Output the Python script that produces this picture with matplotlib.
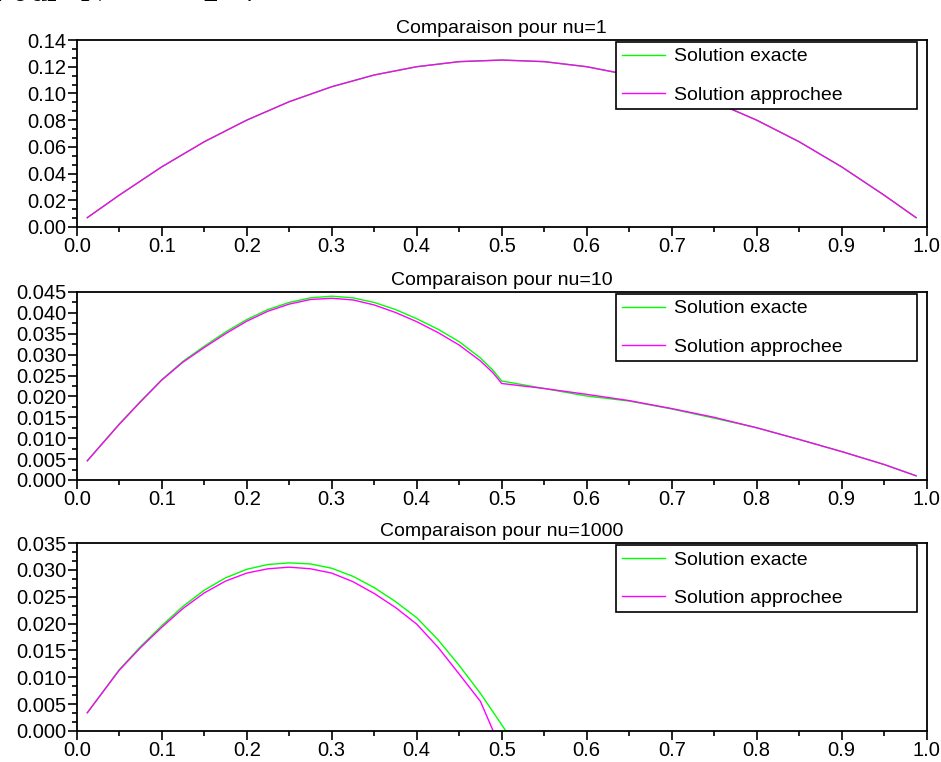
import numpy as np
import matplotlib.pyplot as plt
from matplotlib.ticker import MultipleLocator, FormatStrFormatter

plt.rcParams['font.family'] = ['Liberation Sans', 'DejaVu Sans']
plt.rcParams['mathtext.fontset'] = 'cm'

# nu = 1 (both solutions overlap)
x_nu1 = [0.0125, 0.05, 0.1, 0.15, 0.2, 0.25, 0.3, 0.35, 0.4, 0.45, 0.5,
         0.55, 0.6, 0.65, 0.7, 0.75, 0.8, 0.85, 0.9, 0.95, 0.9875]
exact_nu1 = [0.0070, 0.0238, 0.0450, 0.0638, 0.0800, 0.0938, 0.1050, 0.1138, 0.1200, 0.1238, 0.1250,
             0.1238, 0.1200, 0.1138, 0.1050, 0.0938, 0.0800, 0.0638, 0.0450, 0.0238, 0.0070]
approx_nu1 = [0.0070, 0.0238, 0.0450, 0.0638, 0.0800, 0.0938, 0.1050, 0.1138, 0.1200, 0.1238, 0.1250,
              0.1238, 0.1200, 0.1138, 0.1050, 0.0938, 0.0800, 0.0638, 0.0450, 0.0238, 0.0070]

# nu = 10
x_nu10 = [0.0125, 0.05, 0.075, 0.1, 0.125, 0.15, 0.175, 0.2, 0.225, 0.25, 0.275, 0.3,
          0.325, 0.35, 0.375, 0.4, 0.425, 0.45, 0.475, 0.49, 0.5,
          0.55, 0.6, 0.65, 0.7, 0.75, 0.8, 0.85, 0.9, 0.95, 0.9875]
exact_nu10 = [0.0046, 0.0134, 0.0188, 0.0240, 0.0284, 0.0320, 0.0354, 0.0384, 0.0408, 0.0425, 0.0436, 0.0440,
              0.0436, 0.0425, 0.0408, 0.0386, 0.0361, 0.0331, 0.0292, 0.0262, 0.0237,
              0.0219, 0.0201, 0.0189, 0.0170, 0.0148, 0.0125, 0.0097, 0.0068, 0.0037, 0.0010]
approx_nu10 = [0.0046, 0.0133, 0.0187, 0.0239, 0.0282, 0.0317, 0.0350, 0.0380, 0.0404, 0.0421, 0.0432, 0.0435,
               0.0431, 0.0419, 0.0401, 0.0379, 0.0353, 0.0323, 0.0285, 0.0256, 0.0231,
               0.0219, 0.0205, 0.0190, 0.0171, 0.0150, 0.0125, 0.0097, 0.0068, 0.0037, 0.0010]

# nu = 1000
x_nu1000_ex = [0.0125, 0.05, 0.075, 0.1, 0.125, 0.15, 0.175, 0.2, 0.225, 0.25, 0.275, 0.3,
               0.325, 0.35, 0.375, 0.4, 0.425, 0.45, 0.475, 0.505]
exact_nu1000 = [0.0034, 0.0114, 0.0157, 0.0196, 0.0232, 0.0262, 0.0285, 0.0301, 0.0310, 0.0313, 0.0311, 0.0303,
                0.0288, 0.0267, 0.0241, 0.0211, 0.0170, 0.0122, 0.0070, 0.0]
x_nu1000_ap = [0.0125, 0.05, 0.075, 0.1, 0.125, 0.15, 0.175, 0.2, 0.225, 0.25, 0.275, 0.3,
               0.325, 0.35, 0.375, 0.4, 0.425, 0.45, 0.475, 0.49]
approx_nu1000 = [0.0034, 0.0113, 0.0155, 0.0193, 0.0228, 0.0257, 0.0279, 0.0294, 0.0302, 0.0305, 0.0302, 0.0294,
                 0.0278, 0.0256, 0.0230, 0.0199, 0.0156, 0.0106, 0.0055, 0.0]

panels = [
    ("Comparaison pour nu=1", x_nu1, exact_nu1, x_nu1, approx_nu1, 0.14, 0.02, 3, "%.2f"),
    ("Comparaison pour nu=10", x_nu10, exact_nu10, x_nu10, approx_nu10, 0.045, 0.005, 2, "%.3f"),
    ("Comparaison pour nu=1000", x_nu1000_ex, exact_nu1000, x_nu1000_ap, approx_nu1000, 0.035, 0.005, 3, "%.3f"),
]

fig = plt.figure(figsize=(9.41, 7.62), dpi=100)
fig.patch.set_facecolor('white')

# axes boxes in figure fractions (left, bottom, width, height)
boxes = [
    (0.0815, 0.7021, 0.9033, 0.2454),
    (0.0815, 0.3701, 0.9033, 0.2467),
    (0.0815, 0.0407, 0.9033, 0.2467),
]

for (title, xe, ye, xa, ya, ymax, ystep, nminor, fmt), box in zip(panels, boxes):
    ax = fig.add_axes(box)
    ax.plot(xe, ye, color='#00ff00', lw=1.0, label='Solution exacte')
    ax.plot(xa, ya, color='#ff00ff', lw=1.0, label='Solution approchee')
    ax.set_xlim(0, 1)
    ax.set_ylim(0, ymax)
    ax.xaxis.set_major_locator(MultipleLocator(0.1))
    ax.xaxis.set_minor_locator(MultipleLocator(0.05))
    ax.xaxis.set_major_formatter(FormatStrFormatter("%.1f"))
    ax.yaxis.set_major_locator(MultipleLocator(ystep))
    ax.yaxis.set_minor_locator(MultipleLocator(ystep / nminor))
    ax.yaxis.set_major_formatter(FormatStrFormatter(fmt))
    ax.tick_params(which='both', direction='out', width=1.2, labelsize=14.5, pad=1)
    ax.tick_params(which='major', length=6.5)
    ax.tick_params(which='minor', length=3.5)
    for s in ax.spines.values():
        s.set_linewidth(1.3)
    ax.set_title(title, fontsize=14, pad=5)
    leg = ax.legend(loc='upper left', bbox_to_anchor=(0.635, 0.0, 0.354, 0.987),
                    mode='expand', borderaxespad=0, fancybox=False, framealpha=1,
                    edgecolor='black', fontsize=14, handlelength=2.2, handletextpad=0.5,
                    labelspacing=1.05, borderpad=0.28)
    leg.get_frame().set_linewidth(1.2)

fig.text(-0.012, 0.9985, r"$\mathrm{Pour}\ \ N\quad=\quad2\ \ :$", fontsize=24,
         ha='left', va='baseline')

fig.savefig('out.png', dpi=100)
